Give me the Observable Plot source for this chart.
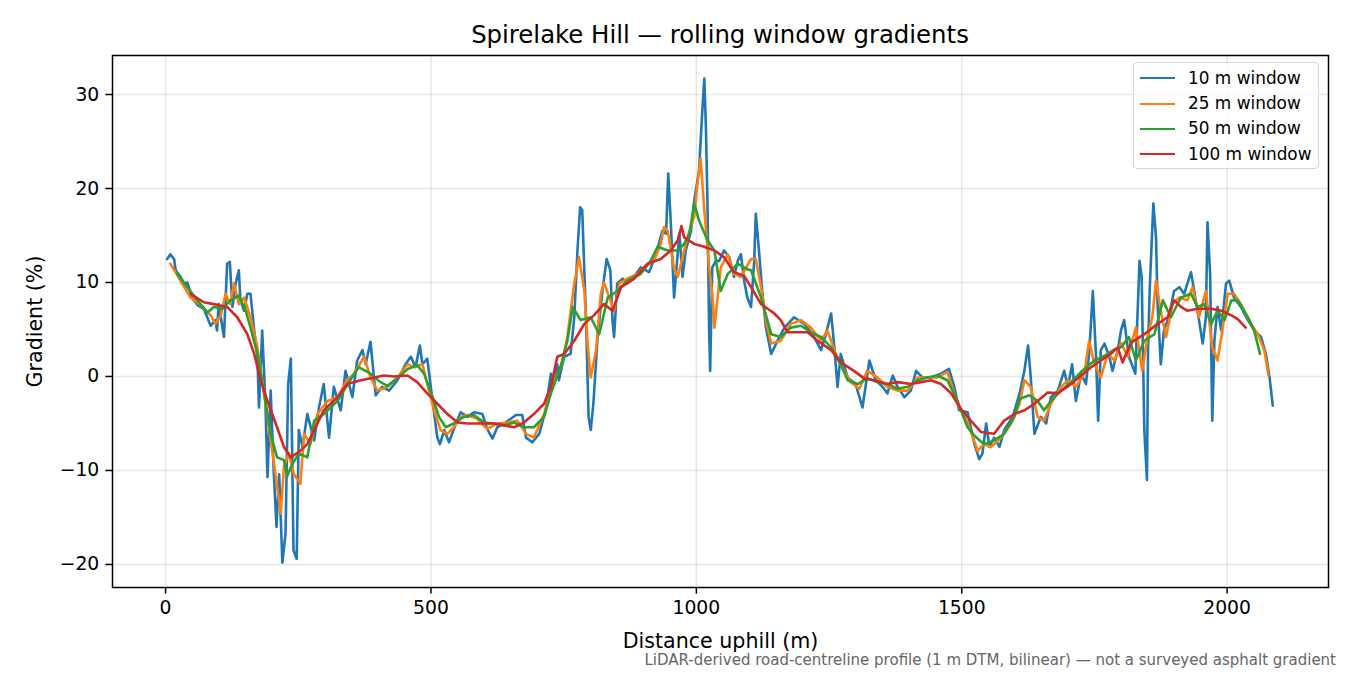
<!DOCTYPE html>
<html>
<head>
<meta charset="utf-8">
<script src="https://cdn.jsdelivr.net/npm/d3@7"></script>
<script src="https://cdn.jsdelivr.net/npm/@observablehq/plot@0.6"></script>
<style>
  html, body { margin: 0; padding: 0; background: #fff; }
  body { width: 1350px; height: 675px; position: relative; overflow: hidden; font-family: "DejaVu Sans", sans-serif; color: #000; }
  #title { box-sizing: border-box; height: 48px; padding-top: 20.5px; padding-left: 112px; padding-right: 22px; text-align: center; font-size: 24.4px; line-height: 28px; white-space: nowrap; }
  #chart svg { display: block; }
  #caption { box-sizing: border-box; height: 23px; text-align: right; padding-right: 14px; font-size: 15px; line-height: 16px; color: #666; white-space: nowrap; }
  #legend { position: absolute; left: 1133px; top: 62px; width: 186px; height: 107px; box-sizing: border-box; border: 1.3px solid #d6d6d6; border-radius: 4px; background: rgba(255,255,255,0.8); }
  .lrow { position: absolute; left: 0; height: 25px; display: flex; align-items: center; white-space: nowrap; }
  .lsw { margin-left: 6px; width: 35px; height: 0; border-top: 2.8px solid; }
  .ltx { margin-left: 13px; font-size: 16.9px; line-height: 25px; }
</style>
</head>
<body>
<div id="title"></div>
<div id="chart"></div>
<div id="caption"></div>
<div id="legend"></div>
<script>
// ---------- text ----------
const titleText = "Spirelake Hill — rolling window gradients";
const xLabel = "Distance uphill (m)";
const yLabel = "Gradient (%)";
const captionText = "LiDAR-derived road-centreline profile (1 m DTM, bilinear) — not a surveyed asphalt gradient";

// ---------- series ----------
const seriesNames = ["10 m window", "25 m window", "50 m window", "100 m window"];
const seriesColors = ["#1f77b4", "#ff7f0e", "#2ca02c", "#d62728"];

// ---------- ticks ----------
const xTicks = [0, 500, 1000, 1500, 2000];
const yTicks = [-20, -10, 0, 10, 20, 30];

// ---------- 10 m window ----------
const dist10 = [3,9,16,19,28,35,41,50,60,72,85,94,97,100,110,116,121,126,132,138,141,148,154,160,167,173,176,182,188,192,198,204,209,214,220,226,231,236,241,247,251,258,267,280,289,298,308,317,330,339,352,361,371,377,386,396,408,421,437,452,462,471,479,484,493,503,512,517,525,534,547,556,569,581,597,606,616,625,638,660,672,679,691,704,716,726,732,738,741,751,763,770,776,781,785,792,797,801,806,814,823,831,838,842,845,851,861,870,883,895,911,924,936,943,947,952,958,968,974,980,990,996,1005,1012,1015,1018,1021,1024,1026,1030,1037,1043,1052,1062,1071,1078,1084,1090,1096,1103,1109,1112,1118,1124,1131,1141,1153,1166,1184,1203,1219,1235,1244,1254,1260,1266,1272,1285,1300,1313,1326,1338,1351,1360,1370,1379,1392,1404,1414,1426,1442,1461,1476,1486,1495,1511,1524,1533,1539,1546,1552,1561,1571,1580,1596,1609,1618,1625,1630,1637,1649,1659,1668,1681,1693,1700,1708,1715,1725,1734,1740,1747,1753,1757,1762,1769,1778,1784,1794,1800,1806,1815,1827,1835,1839,1844,1849,1851,1854,1861,1866,1869,1875,1881,1890,1900,1910,1919,1932,1938,1947,1954,1960,1963,1968,1972,1976,1982,1989,1998,2004,2013,2026,2039,2051,2064,2073,2080,2086];
const grad10 = [12.5,13.0,12.5,11.3,10.6,9.9,10.0,8.4,7.6,7.2,5.4,6.0,4.9,7.7,4.2,12.0,12.2,7.4,9.9,11.3,8.1,7.0,8.8,8.8,4.9,2.1,-3.3,4.9,-2.6,-10.7,-1.5,-10.4,-16.0,-10.4,-19.8,-16.7,-0.8,1.9,-18.5,-19.4,-5.7,-7.5,-4.0,-6.8,-3.3,-0.8,-6.5,-1.1,-3.6,0.6,-2.2,1.7,2.8,1.3,3.7,-2.0,-1.1,-1.5,-0.4,1.3,2.1,1.0,3.3,1.3,1.9,-2.6,-6.5,-7.2,-5.7,-7.0,-5.0,-3.8,-4.3,-3.8,-4.0,-5.6,-6.6,-5.4,-5.0,-4.1,-4.1,-6.5,-7.0,-6.1,-3.6,0.3,-0.8,1.3,-0.4,2.1,2.4,6.3,13.4,18.0,17.7,6.3,-4.3,-5.7,-2.9,4.2,9.1,12.5,11.3,6.0,4.2,9.9,10.4,9.9,10.6,11.6,11.1,13.0,15.5,15.2,21.6,16.2,8.4,15.2,10.6,13.4,15.5,18.7,21.9,29.0,31.7,26.5,18.4,5.2,0.6,11.6,12.3,12.3,13.4,12.7,10.6,12.3,13.0,10.2,8.4,7.4,12.3,17.3,13.4,9.1,5.2,2.4,3.8,5.2,6.3,5.6,4.5,2.8,4.5,6.7,3.1,-1.1,2.4,-0.1,-0.8,-3.3,1.7,-0.4,-1.1,-1.8,0.1,-1.1,-2.2,-1.5,0.6,-0.1,-0.1,0.3,0.8,-1.1,-3.6,-3.8,-7.2,-8.8,-8.2,-5.0,-7.5,-6.5,-7.5,-5.7,-4.3,-1.8,0.6,3.3,-0.1,-6.1,-4.3,-5.0,-2.2,-1.5,0.6,-1.1,1.3,-2.6,0.3,-0.8,2.4,9.1,2.1,-4.7,2.8,3.5,2.1,0.6,2.8,4.9,6.0,2.1,0.3,12.3,10.6,-5.7,-11.0,2.8,9.1,18.4,14.8,7.7,1.3,4.9,6.3,9.1,9.5,8.8,11.1,9.1,6.0,3.5,6.3,16.4,10.9,-4.7,3.8,7.4,4.9,9.9,10.2,8.4,7.4,6.0,4.9,4.2,2.4,-0.1,-3.1];

// ---------- 25 m window ----------
const dist25 = [9,28,47,66,85,94,104,113,122,129,138,148,160,173,185,198,207,217,223,232,242,254,261,273,286,305,324,342,355,374,386,399,418,437,456,468,484,493,506,518,531,543,556,569,587,606,625,644,663,679,694,713,732,745,757,770,779,789,795,801,811,820,826,836,845,855,870,889,901,920,933,939,946,958,965,971,983,996,1002,1008,1015,1024,1030,1034,1040,1046,1059,1071,1084,1103,1112,1122,1131,1141,1159,1178,1197,1216,1235,1247,1260,1272,1291,1307,1322,1341,1360,1379,1398,1417,1435,1454,1473,1492,1511,1530,1542,1555,1574,1593,1609,1618,1630,1643,1655,1668,1687,1700,1715,1731,1740,1750,1762,1775,1788,1800,1813,1828,1840,1850,1859,1866,1875,1885,1897,1910,1925,1935,1947,1960,1972,1982,1991,2001,2013,2026,2045,2058,2070,2078];
const grad25 = [12.0,10.2,8.4,7.6,6.5,5.6,6.5,8.8,7.7,9.9,7.7,8.4,6.3,3.1,-1.5,-6.8,-10.4,-14.6,-9.6,-8.2,-10.4,-11.4,-6.1,-7.2,-4.0,-2.6,-2.2,-0.4,0.3,2.1,-0.1,-1.5,-1.1,-0.1,1.3,1.0,1.3,-0.8,-3.6,-5.7,-6.1,-5.4,-4.3,-4.1,-4.5,-5.6,-5.0,-4.9,-4.7,-6.1,-6.5,-4.0,-0.4,1.0,4.2,9.9,12.7,9.1,3.5,-0.1,2.8,8.8,10.0,8.4,7.0,9.9,10.4,10.9,11.6,12.3,14.1,15.9,15.5,11.5,10.6,12.0,14.8,17.0,20.5,23.2,17.7,11.6,8.8,5.2,8.4,11.6,13.0,10.9,10.6,12.5,12.5,9.5,6.0,3.5,3.8,5.6,6.0,5.2,3.8,4.9,2.8,1.3,-0.6,-1.3,0.6,-0.1,-1.1,-1.5,-1.5,-0.1,-0.1,-0.1,0.5,-2.9,-4.9,-7.9,-7.2,-7.5,-6.5,-5.0,-2.9,-0.4,-1.1,-4.3,-4.7,-2.9,-1.1,-0.4,-1.1,0.3,3.8,1.3,-0.1,2.4,1.7,3.6,2.1,5.2,0.6,4.2,6.3,10.2,7.0,4.2,7.7,8.4,8.1,9.5,6.3,9.1,3.1,1.7,4.9,8.8,8.8,7.7,5.6,4.5,2.8,0.1];

// ---------- 50 m window ----------
const dist50 = [22,41,60,79,91,107,122,138,151,160,173,188,198,210,223,229,239,251,267,280,298,324,349,364,386,405,418,437,456,474,487,503,515,528,543,562,581,600,619,638,657,675,694,713,726,745,757,767,782,801,817,833,851,870,895,914,927,946,965,977,987,996,1005,1021,1034,1046,1059,1078,1096,1103,1122,1141,1159,1178,1197,1216,1235,1254,1272,1285,1304,1322,1341,1360,1379,1398,1417,1435,1454,1473,1492,1511,1524,1542,1561,1580,1599,1609,1627,1643,1655,1668,1687,1706,1725,1750,1769,1788,1800,1815,1828,1844,1863,1879,1894,1913,1932,1944,1957,1970,1982,1995,2008,2020,2039,2051,2062];
const grad50 = [10.9,9.5,8.1,6.8,7.4,7.2,8.1,8.6,7.0,5.2,2.4,-2.6,-6.1,-8.6,-8.9,-10.6,-9.3,-8.2,-8.6,-4.7,-4.0,-2.6,-0.3,1.0,0.3,-0.6,-1.0,-0.2,0.8,1.2,0.3,-2.2,-4.3,-5.4,-5.0,-4.3,-4.1,-4.9,-5.0,-5.2,-4.9,-5.4,-5.4,-4.3,-1.8,1.2,3.8,7.4,6.0,6.3,4.5,8.4,9.1,10.2,10.9,12.3,13.8,13.4,13.4,14.1,15.2,18.4,16.6,14.5,13.4,9.1,10.9,12.0,11.4,11.3,8.4,4.5,4.2,5.2,5.4,4.7,4.2,3.1,1.3,-0.4,-0.8,-0.2,-0.6,-0.8,-1.3,-1.1,-0.4,-0.1,0.1,-0.4,-2.6,-5.4,-6.3,-7.2,-6.8,-6.1,-4.3,-2.4,-2.0,-2.6,-3.6,-2.6,-1.5,-0.6,0.5,1.7,2.2,2.9,3.1,4.2,1.7,3.8,4.5,8.1,6.3,8.4,8.8,7.4,7.7,5.6,7.0,6.0,8.1,8.1,6.3,4.9,2.4];

// ---------- 100 m window ----------
const dist100 = [47,72,91,116,135,154,167,179,192,210,223,236,254,267,280,298,324,342,368,393,411,430,456,474,493,512,531,550,569,594,619,638,657,675,694,713,726,738,751,770,789,807,826,842,858,883,908,933,952,965,972,977,996,1015,1034,1052,1071,1090,1103,1122,1147,1159,1172,1191,1210,1228,1254,1272,1297,1316,1335,1360,1379,1404,1423,1442,1461,1480,1499,1517,1536,1561,1580,1599,1618,1637,1662,1681,1706,1725,1744,1762,1781,1794,1803,1819,1844,1869,1888,1900,1913,1925,1944,1970,1989,2008,2020,2035];
const grad100 = [8.8,7.9,7.7,7.4,6.3,4.5,2.4,-0.4,-2.6,-5.4,-7.5,-8.6,-7.9,-7.2,-5.7,-3.6,-2.2,-0.8,-0.4,-0.1,0.1,0.0,0.1,-0.6,-1.8,-2.9,-4.0,-4.9,-5.0,-5.0,-5.0,-5.2,-5.4,-4.9,-4.0,-2.9,-1.1,2.1,2.4,3.8,5.6,6.5,7.7,7.0,9.5,10.4,12.0,12.5,13.4,14.5,16.0,14.8,14.1,13.8,13.4,12.7,11.1,10.7,9.5,7.7,6.7,6.0,4.7,4.7,4.7,3.8,2.8,1.5,0.6,-0.2,-0.4,-0.8,-0.6,-0.8,-0.6,-0.4,-0.8,-1.8,-3.5,-4.7,-5.9,-6.1,-4.7,-4.0,-3.6,-2.9,-1.7,-1.8,-0.8,0.1,1.0,1.7,2.4,3.1,1.5,3.6,4.5,5.6,6.3,8.1,7.4,7.0,7.2,7.2,7.0,6.5,6.1,5.2];

// ---------- build rows ----------
const distances = [dist10, dist25, dist50, dist100];
const gradients = [grad10, grad25, grad50, grad100];
const rows = seriesNames.flatMap((name, i) =>
  distances[i].map((d, j) => ({series: name, d, g: gradients[i][j]}))
);

const fmt = v => (v < 0 ? "\u2212" + Math.abs(v) : String(v));
const gridStyle = {stroke: "#b0b0b0", strokeOpacity: 0.3, strokeWidth: 1.5};

const chart = Plot.plot({
  width: 1350,
  height: 604,
  marginLeft: 112,
  marginRight: 22,
  marginTop: 7,
  marginBottom: 65,
  style: {fontFamily: "DejaVu Sans", fontSize: "18.75px", background: "white", color: "black", overflow: "visible"},
  x: {domain: [-100, 2191]},
  y: {domain: [-22.45, 34.15]},
  color: {domain: seriesNames, range: seriesColors},
  marks: [
    Plot.gridX(xTicks, gridStyle),
    Plot.gridY(yTicks, gridStyle),
    Plot.line(rows, {x: "d", y: "g", z: "series", stroke: "series", strokeWidth: 2.6}),
    Plot.frame({stroke: "black", strokeWidth: 1.5}),
    Plot.axisX(xTicks, {tickSize: 6.6, tickPadding: 6.6, tickFormat: fmt, label: null, fontSize: 18.75, strokeWidth: 1.5}),
    Plot.axisY(yTicks, {tickSize: 6.6, tickPadding: 6.6, tickFormat: fmt, label: null, fontSize: 18.75, strokeWidth: 1.5}),
    Plot.text([xLabel], {frameAnchor: "bottom", dy: 54, lineAnchor: "middle", textAnchor: "middle", fontSize: 20.6, text: d => d}),
    Plot.text([yLabel], {frameAnchor: "left", dx: -77, rotate: -90, lineAnchor: "middle", textAnchor: "middle", fontSize: 20.6, text: d => d})
  ]
});

document.getElementById("title").textContent = titleText;
document.getElementById("chart").appendChild(chart);
document.getElementById("caption").textContent = captionText;

const legend = document.getElementById("legend");
seriesNames.forEach((name, i) => {
  const row = document.createElement("div");
  row.className = "lrow";
  row.style.top = (2.7 + 25.3 * i) + "px";
  const sw = document.createElement("div");
  sw.className = "lsw";
  sw.style.borderTopColor = seriesColors[i];
  const tx = document.createElement("div");
  tx.className = "ltx";
  tx.textContent = name;
  row.appendChild(sw);
  row.appendChild(tx);
  legend.appendChild(row);
});
</script>
</body>
</html>
